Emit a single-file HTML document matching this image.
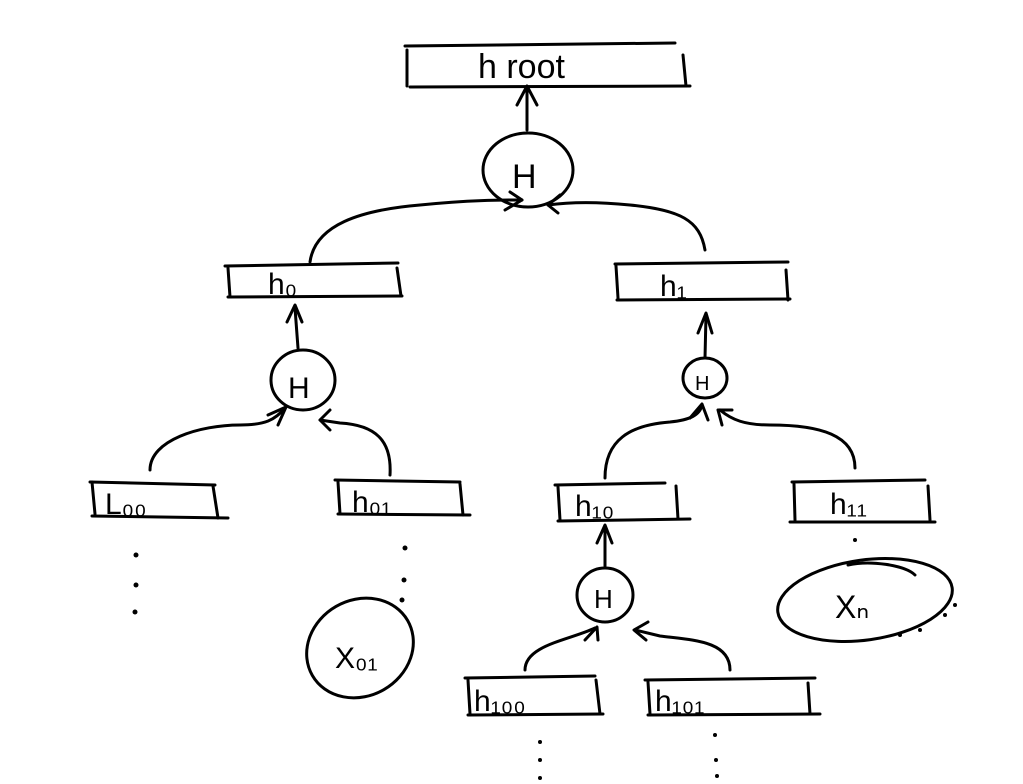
<!DOCTYPE html>
<html><head><meta charset="utf-8"><style>
html,body{margin:0;padding:0;background:#fff;width:1023px;height:784px;overflow:hidden}
svg text{font-family:"Liberation Sans",sans-serif;fill:#000}
</style></head><body>
<svg width="1023" height="784" viewBox="0 0 1023 784" xmlns="http://www.w3.org/2000/svg">
<g fill="none" stroke="#000" stroke-width="3" stroke-linecap="round" stroke-linejoin="round">
<!-- root box -->
<path d="M405 46 L675 43"/><path d="M410 87 L690 86"/><path d="M407 50 L407 86"/><path d="M683 55 L686 86"/>
<path d="M527 130 L527 88"/><path d="M517 105 L527 86 L537 105"/>
<ellipse cx="528" cy="170" rx="45" ry="37"/>
<path d="M310 262 C315 225 360 210 420 205 C470 200 500 200 522 200"/><path d="M505 210 L522 200 L510 192"/>
<path d="M705 250 C700 220 680 210 630 205 C600 202 570 202 548 205"/><path d="M560 195 L548 205 L558 213"/>
<!-- h0 / h1 boxes -->
<path d="M225 266 L398 263"/><path d="M228 297 L402 296"/><path d="M228 268 L230 297"/><path d="M397 268 L401 296"/>
<path d="M615 264 L788 262"/><path d="M617 300 L790 299"/><path d="M616 266 L618 298"/><path d="M786 270 L788 300"/>
<path d="M298 348 L295 308"/><path d="M287 322 L295 305 L302 322"/>
<ellipse cx="303" cy="380" rx="32" ry="30"/>
<path d="M705 358 L706 315"/><path d="M698 333 L706 313 L712 333"/>
<ellipse cx="705" cy="378" rx="22" ry="20"/>
<!-- level 2 curves -->
<path d="M150 470 C150 440 200 425 240 425 C265 425 275 420 285 408"/><path d="M268 415 L286 407 L278 425"/>
<path d="M390 475 C392 440 375 425 340 423 L320 420"/><path d="M330 410 L320 420 L330 430"/>
<path d="M605 478 C605 440 630 425 670 422 C690 420 700 415 702 405"/><path d="M690 418 L702 404 L708 420"/>
<path d="M855 468 C855 435 820 425 770 425 C745 425 732 420 720 410"/><path d="M722 425 L718 410 L732 410"/>
<!-- level 2 boxes -->
<path d="M90 482 L215 485"/><path d="M92 516 L228 518"/><path d="M92 482 L95 514"/><path d="M213 486 L218 518"/>
<path d="M335 480 L460 482"/><path d="M338 514 L470 515"/><path d="M338 482 L340 514"/><path d="M460 484 L463 515"/>
<path d="M555 485 L665 483"/><path d="M558 521 L690 519"/><path d="M558 487 L560 520"/><path d="M676 486 L678 519"/>
<path d="M792 482 L925 480"/><path d="M790 522 L935 522"/><path d="M794 484 L795 520"/><path d="M928 486 L930 520"/>
<!-- h10 circle -->
<path d="M605 566 L605 527"/><path d="M597 543 L605 525 L612 543"/>
<ellipse cx="605" cy="595" rx="28" ry="27"/>
<path d="M525 670 C525 645 570 640 595 628"/><path d="M585 640 L597 627 L598 640"/>
<path d="M730 670 C730 640 690 640 660 636 L635 630"/><path d="M648 622 L634 630 L646 640"/>
<!-- bottom boxes -->
<path d="M465 678 L595 676"/><path d="M468 715 L603 714"/><path d="M468 680 L470 714"/><path d="M596 680 L600 714"/>
<path d="M645 680 L815 678"/><path d="M648 715 L820 714"/><path d="M648 682 L650 714"/><path d="M808 683 L810 714"/>
<!-- leaves -->
<ellipse cx="360" cy="648" rx="55" ry="48" transform="rotate(-30 360 648)"/>
<ellipse cx="865" cy="600" rx="88" ry="40" transform="rotate(-8 865 600)"/>
<path d="M848 565 C870 560 905 565 915 575"/>
</g>
<g fill="#000">
<circle cx="136" cy="555" r="2.5"/><circle cx="136" cy="585" r="2.5"/><circle cx="135" cy="612" r="2.5"/>
<circle cx="405" cy="548" r="2.5"/><circle cx="404" cy="580" r="2.5"/><circle cx="402" cy="600" r="2.5"/>
<circle cx="540" cy="742" r="2"/><circle cx="540" cy="760" r="2"/><circle cx="540" cy="778" r="2"/>
<circle cx="715" cy="735" r="2"/><circle cx="716" cy="760" r="2"/><circle cx="717" cy="776" r="2"/>
<circle cx="855" cy="540" r="2"/><circle cx="900" cy="635" r="2"/><circle cx="920" cy="630" r="2"/><circle cx="945" cy="615" r="2"/><circle cx="955" cy="605" r="2"/>
</g>
<text x="478" y="78" font-size="34">h root</text>
<text x="512" y="188" font-size="34">H</text>
<text x="268" y="294" font-size="30">h₀</text>
<text x="660" y="296" font-size="30">h₁</text>
<text x="288" y="398" font-size="30">H</text>
<text x="695" y="390" font-size="20">H</text>
<text x="105" y="514" font-size="30">L₀₀</text>
<text x="352" y="512" font-size="30">h₀₁</text>
<text x="575" y="516" font-size="30">h₁₀</text>
<text x="830" y="514" font-size="30">h₁₁</text>
<text x="594" y="608" font-size="26">H</text>
<text x="474" y="711" font-size="30">h₁₀₀</text>
<text x="655" y="711" font-size="30">h₁₀₁</text>
<text x="335" y="668" font-size="30">X₀₁</text>
<text x="835" y="618" font-size="32">Xₙ</text>
</svg>
</body></html>
